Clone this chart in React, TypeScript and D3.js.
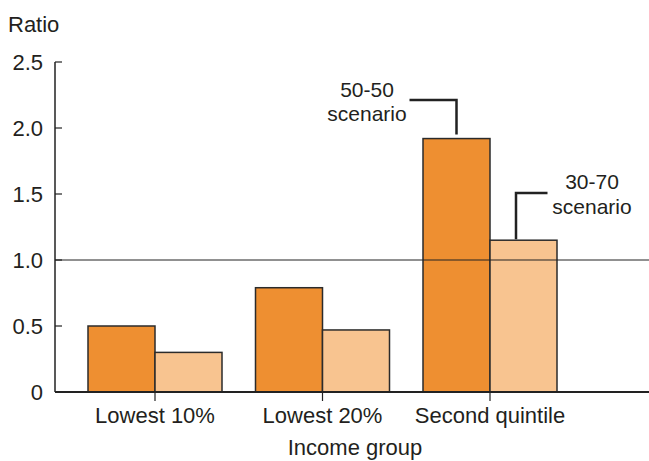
import React from "react";
import * as d3 from "d3";

const categories = ["Lowest 10%", "Lowest 20%", "Second quintile"];
const series5050 = [0.5, 0.79, 1.92];
const series3070 = [0.3, 0.47, 1.15];
const yTicks = [0, 0.5, 1.0, 1.5, 2.0, 2.5];
const yTickLabels = ["0", "0.5", "1.0", "1.5", "2.0", "2.5"];

const W = 649;
const H = 461;
const FONT = "'Liberation Sans', Arial, Helvetica, sans-serif";
const TXT = "#231f20";
const FS = 22;

export default function App() {
  const axisX = 55;
  const y = d3.scaleLinear().domain([0, 2.5]).range([392, 62]);
  const x = d3.scalePoint<string>().domain(categories).range([155, 490]);
  const step = x.step();
  const bw = step * 0.4;

  const i3 = 2;
  const cx3 = x(categories[i3])!;

  return (
    <svg width={W} height={H} style={{ position: "absolute", left: 0, top: 0 }}>
      <rect width={W} height={H} fill="#fff" />
      <text x={8} y={32} fontFamily={FONT} fontSize={FS} fill={TXT}>Ratio</text>

      {categories.map((c, i) => {
        const cx = x(c)!;
        return (
          <g key={c}>
            <rect x={cx - bw} y={y(series5050[i])} width={bw} height={y(0) - y(series5050[i])}
              fill="#EE8F31" stroke="#2b2b2b" strokeWidth={1.5} />
            <rect x={cx} y={y(series3070[i])} width={bw} height={y(0) - y(series3070[i])}
              fill="#F8C490" stroke="#2b2b2b" strokeWidth={1.5} />
          </g>
        );
      })}

      {/* reference line at 1.0 */}
      <line x1={axisX} x2={W} y1={y(1)} y2={y(1)} stroke="#222" strokeWidth={1} />

      {/* y axis */}
      <line x1={axisX} x2={axisX} y1={y(2.5)} y2={y(0)} stroke="#222" strokeWidth={1.5} />
      {yTicks.map((t, i) => (
        <g key={t}>
          {t > 0 && <line x1={axisX} x2={axisX + 7} y1={y(t)} y2={y(t)} stroke="#222" strokeWidth={1.2} />}
          <text x={43} y={y(t)} dy="0.36em" textAnchor="end" fontFamily={FONT} fontSize={FS} fill={TXT}>
            {yTickLabels[i]}
          </text>
        </g>
      ))}

      {/* x axis */}
      <line x1={axisX} x2={W} y1={y(0)} y2={y(0)} stroke="#222" strokeWidth={1.8} />
      {categories.map((c) => (
        <g key={c}>
          <line x1={x(c)!} x2={x(c)!} y1={y(0)} y2={y(0) + 9} stroke="#222" strokeWidth={1.2} />
          <text x={x(c)!} y={423} textAnchor="middle" fontFamily={FONT} fontSize={FS} fill={TXT}>{c}</text>
        </g>
      ))}
      <text x={355} y={455} textAnchor="middle" fontFamily={FONT} fontSize={FS} fill={TXT}>Income group</text>

      {/* annotations */}
      <path d={`M${cx3 - bw / 2 - 47},100 H${cx3 - bw / 2} V${y(series5050[i3]) - 4}`}
        fill="none" stroke="#222" strokeWidth={2.5} />
      <text x={367} y={97} textAnchor="middle" fontFamily={FONT} fontSize={21} fill={TXT}>50-50</text>
      <text x={367} y={121} textAnchor="middle" fontFamily={FONT} fontSize={21} fill={TXT}>scenario</text>

      <path d={`M${cx3 + bw / 2 + 24},193 H${cx3 + bw / 2 - 7.5} V${y(series3070[i3]) - 1}`}
        fill="none" stroke="#222" strokeWidth={2.5} />
      <text x={592} y={189} textAnchor="middle" fontFamily={FONT} fontSize={21} fill={TXT}>30-70</text>
      <text x={592} y={214} textAnchor="middle" fontFamily={FONT} fontSize={21} fill={TXT}>scenario</text>
    </svg>
  );
}
